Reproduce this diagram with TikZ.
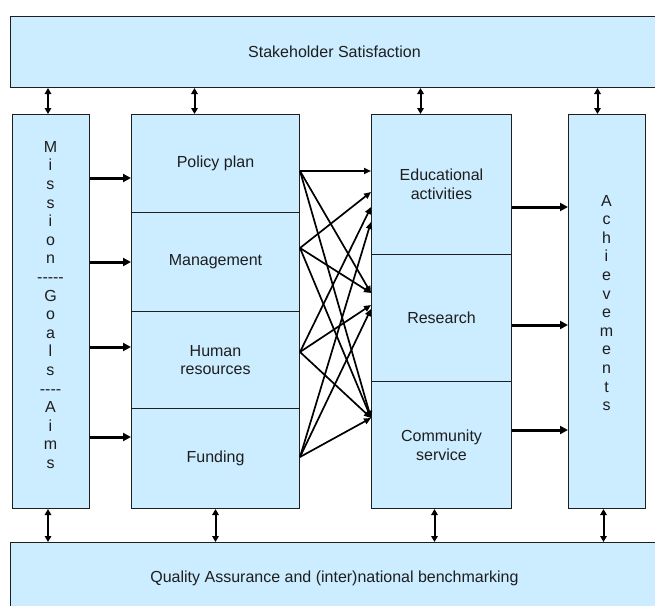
\documentclass[tikz,border=0pt]{standalone}
\usepackage{fontspec}
\setmainfont{Liberation Sans}
\usetikzlibrary{arrows.meta}
\definecolor{boxblue}{RGB}{204,236,255}
\definecolor{inkgray}{RGB}{30,30,30}
\begin{document}
\begin{tikzpicture}[x=1pt,y=-1pt,
  box/.style={draw=inkgray, fill=boxblue, line width=1pt, inner sep=0pt,
    anchor=north west, align=center, text=inkgray,
    font=\fontsize{16}{18.6}\selectfont},
  lbl/.style={align=center, inner sep=0pt, text=inkgray,
    font=\fontsize{16}{18.6}\selectfont},
  dbl/.style={{Triangle[length=6pt,width=6.5pt]}-{Triangle[length=6pt,width=6.5pt]}, line width=2pt, black},
  mainarr/.style={-{Triangle[length=8pt,width=8pt]}, line width=3pt, black},
  cross/.style={-{Triangle[length=7pt,width=6pt]}, line width=1.7pt, black}]
\useasboundingbox (0,0) rectangle (655,605);
% boxes
\node[box, minimum width=648pt, minimum height=71pt] (top) at (10,16) {Stakeholder Satisfaction};
\node[box, minimum width=648pt, minimum height=72pt] (bottom) at (10,542) {Quality Assurance and (inter)national benchmarking};
\node[box, minimum width=77pt, minimum height=394pt] (mission) at (12,114) {};
\node[box, minimum width=168pt, minimum height=98pt] (policy) at (131,114) {Policy plan};
\node[box, minimum width=168pt, minimum height=99pt] (mgmt) at (131,212) {Management};
\node[box, minimum width=168pt, minimum height=97pt] (human) at (131,311) {Human\\resources};
\node[box, minimum width=168pt, minimum height=100pt] (funding) at (131,408) {Funding};
\node[box, minimum width=140pt, minimum height=140pt] (edu) at (371,114) {Educational\\activities};
\node[box, minimum width=140pt, minimum height=127pt] (research) at (371,254) {Research};
\node[box, minimum width=140pt, minimum height=127pt] (community) at (371,381) {Community\\service};
\node[box, minimum width=77pt, minimum height=394pt] (ach) at (568,114) {};
% vertical texts
\node[lbl] (mtext) at (50.5,305) {M\\i\\s\\s\\i\\o\\n\\-{}-{}-{}-{}-\\G\\o\\a\\l\\s\\-{}-{}-{}-\\A\\i\\m\\s};
\node[lbl] (atext) at (606.5,303) {A\\c\\h\\i\\e\\v\\e\\m\\e\\n\\t\\s};
% double arrows top
\draw[dbl] ([xshift=-3pt]mission.north) -- ([xshift=-3pt]mission.north |- top.south);
\draw[dbl] ([xshift=-21pt]policy.north) -- ([xshift=-21pt]policy.north |- top.south);
\draw[dbl] ([xshift=-21pt]edu.north) -- ([xshift=-21pt]edu.north |- top.south);
\draw[dbl] ([xshift=-9.5pt]ach.north) -- ([xshift=-9.5pt]ach.north |- top.south);
% double arrows bottom
\draw[dbl] ([xshift=-3pt]mission.south) -- ([xshift=-3pt]mission.south |- bottom.north);
\draw[dbl] (funding.south) -- (funding.south |- bottom.north);
\draw[dbl] ([xshift=-7pt]community.south) -- ([xshift=-7pt]community.south |- bottom.north);
\draw[dbl] ([xshift=-3.5pt]ach.south) -- ([xshift=-3.5pt]ach.south |- bottom.north);
% level coordinates
\coordinate (y1) at (0,178);
\coordinate (y2) at (0,262);
\coordinate (y3) at (0,347);
\coordinate (y4) at (0,437);
\coordinate (z1) at (0,207);
\coordinate (z2) at (0,325);
\coordinate (z3) at (0,430);
\coordinate (s1) at (0,171);
\coordinate (s2) at (0,248);
\coordinate (s3) at (0,352);
\coordinate (s4) at (0,457);
\coordinate (e1) at (0,171);
\coordinate (e2) at (0,192);
\coordinate (e3) at (0,207);
\coordinate (e4) at (0,222);
\coordinate (r1) at (0,293);
\coordinate (r3) at (0,305);
\coordinate (r4) at (0,309);
\coordinate (c0) at (0,418);
% mission to resources
\draw[mainarr] (mission.east |- y1) -- (policy.west |- y1);
\draw[mainarr] (mission.east |- y2) -- (mgmt.west |- y2);
\draw[mainarr] (mission.east |- y3) -- (human.west |- y3);
\draw[mainarr] (mission.east |- y4) -- (funding.west |- y4);
% processes to achievements
\draw[mainarr] (edu.east |- z1) -- (ach.west |- z1);
\draw[mainarr] (research.east |- z2) -- (ach.west |- z2);
\draw[mainarr] (community.east |- z3) -- (ach.west |- z3);
% cross arrows
\draw[cross] (policy.east |- s1) -- (edu.west |- e1);
\draw[cross] (policy.east |- s1) -- (research.west |- r1);
\draw[cross] (policy.east |- s1) -- (community.west |- c0);
\draw[cross] (mgmt.east |- s2) -- (edu.west |- e2);
\draw[cross] (mgmt.east |- s2) -- (research.west |- r1);
\draw[cross] (mgmt.east |- s2) -- (community.west |- c0);
\draw[cross] (human.east |- s3) -- (edu.west |- e3);
\draw[cross] (human.east |- s3) -- (research.west |- r3);
\draw[cross] (human.east |- s3) -- (community.west |- c0);
\draw[cross] (funding.east |- s4) -- (edu.west |- e4);
\draw[cross] (funding.east |- s4) -- (research.west |- r4);
\draw[cross] (funding.east |- s4) -- (community.west |- c0);
\end{tikzpicture}
\end{document}
